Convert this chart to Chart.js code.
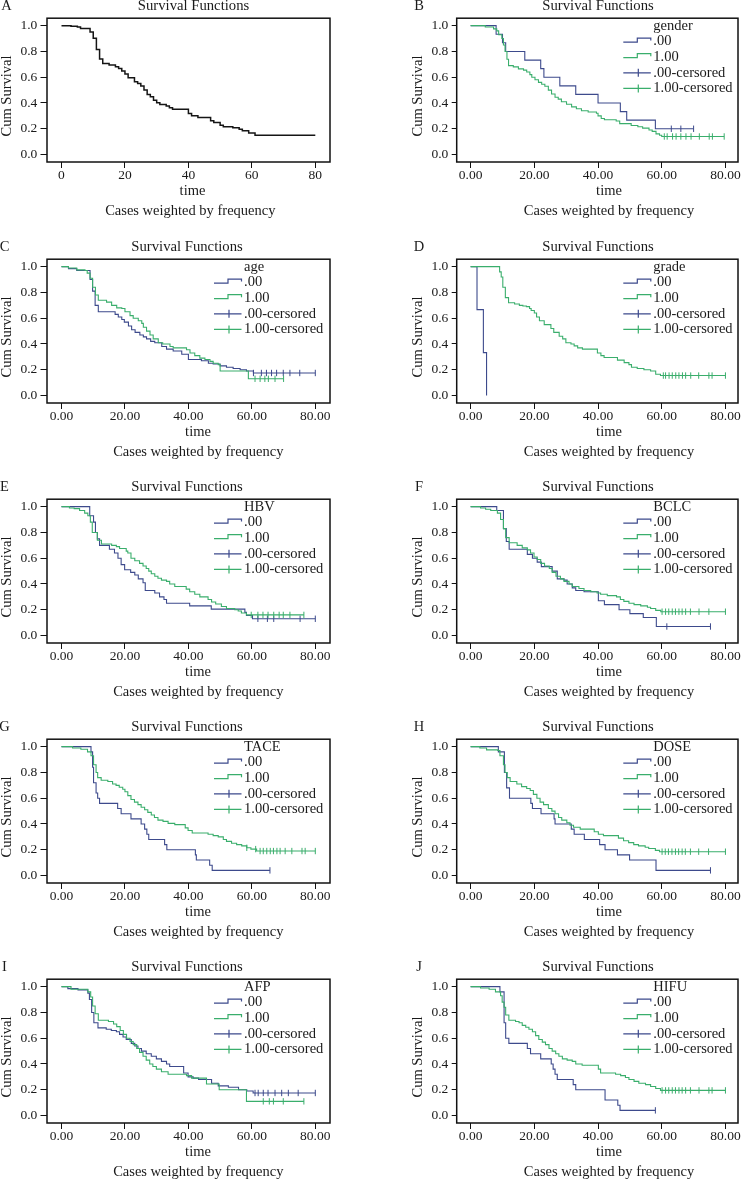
<!DOCTYPE html>
<html>
<head>
<meta charset="utf-8">
<script src="https://cdn.jsdelivr.net/npm/chart.js@4.4.1/dist/chart.umd.min.js"></script>
<style>
  body { margin: 0; background: #fff; width: 743px; height: 1180px; overflow: hidden; position: relative; }
  canvas.panel { position: absolute; }
</style>
</head>
<body>
<script>
// ---- tick labels / legend text ----
const xTickValues = [0, 20, 40, 60, 80];
const yTickValues = [0, 0.2, 0.4, 0.6, 0.8, 1.0];
const seriesLabels = ['.00', '1.00', '.00-cersored', '1.00-cersored'];

// ---- A: all cases ----
const aTime = [0, 3, 5, 6, 9, 10, 11, 12, 13, 15, 17, 18, 19, 20, 21, 23, 24, 25, 26, 27, 28, 29, 30, 31, 33, 34, 35, 40, 41, 43, 47, 48, 50, 51, 54, 56, 57, 59, 61, 80];
const aSurv = [1, 0.995, 0.99, 0.979, 0.951, 0.902, 0.816, 0.741, 0.707, 0.694, 0.681, 0.668, 0.648, 0.624, 0.596, 0.565, 0.552, 0.531, 0.5, 0.466, 0.448, 0.422, 0.402, 0.389, 0.376, 0.363, 0.352, 0.319, 0.301, 0.288, 0.262, 0.249, 0.228, 0.215, 0.207, 0.197, 0.184, 0.168, 0.15, 0.15];

// ---- B: gender ----
const bTime0 = [0, 8, 10, 11, 17, 22, 23, 28, 33, 40, 47, 49, 58, 70];
const bSurv0 = [1, 0.933, 0.867, 0.8, 0.733, 0.667, 0.6, 0.533, 0.467, 0.4, 0.333, 0.267, 0.2, 0.2];
const bCens0 = [63, 66, 70];
const bTime1 = [0, 4.6, 7.2, 8.2, 8.8, 9.8, 10.3, 10.8, 11.4, 11.9, 13.4, 15, 16.6, 17.6, 18.6, 19.2, 20.2, 21.3, 22.3, 23.3, 24.4, 25.4, 26.5, 27.5, 28.5, 30.1, 31.7, 33.2, 34.8, 36.9, 39.5, 40, 41, 42, 45.7, 46.8, 50.4, 52.5, 54, 56, 57, 58.2, 59.3, 60, 79.6];
const bSurv1 = [1, 0.99, 0.975, 0.96, 0.93, 0.9, 0.85, 0.8, 0.74, 0.69, 0.68, 0.665, 0.655, 0.64, 0.62, 0.6, 0.58, 0.56, 0.545, 0.53, 0.5, 0.47, 0.445, 0.43, 0.41, 0.39, 0.37, 0.355, 0.34, 0.33, 0.32, 0.3, 0.28, 0.27, 0.26, 0.24, 0.225, 0.215, 0.205, 0.19, 0.18, 0.16, 0.15, 0.14, 0.14];
const bCens1 = [60.8, 61.7, 63.4, 64.5, 66, 67.6, 69.2, 71.8, 74.9, 75.9, 79.6];

// ---- C: age ----
const cTime0 = [0, 2.2, 4.8, 9, 9.8, 10.6, 11.6, 16.9, 17.9, 19, 19.8, 21.1, 22.1, 23.2, 24.7, 25.8, 26.8, 28.1, 29.4, 31.6, 33.1, 35.2, 37.9, 40, 44.1, 46.3, 47.8, 50, 52, 54.1, 56.3, 58.3, 60.5, 80];
const cSurv0 = [1, 0.985, 0.97, 0.9, 0.81, 0.7, 0.65, 0.63, 0.61, 0.59, 0.57, 0.54, 0.51, 0.49, 0.47, 0.455, 0.44, 0.42, 0.41, 0.38, 0.36, 0.345, 0.32, 0.28, 0.27, 0.25, 0.245, 0.23, 0.22, 0.21, 0.2, 0.19, 0.175, 0.175];
const cCens0 = [60.5, 63, 64.6, 66.2, 67.8, 69.9, 72, 75.1, 80];
const cTime1 = [0, 2.2, 4.8, 7.4, 8.1, 9, 9.8, 10.7, 11.6, 14.2, 15.8, 17.4, 19, 20, 21.6, 22.6, 24.2, 25.3, 25.8, 26.8, 27.9, 28.9, 30.5, 31.9, 34.2, 35.2, 39.4, 40.5, 42, 43.6, 45.2, 46.8, 47.8, 49.4, 50, 58.9, 70];
const cSurv1 = [1, 0.99, 0.975, 0.97, 0.95, 0.91, 0.84, 0.78, 0.74, 0.725, 0.7, 0.68, 0.675, 0.65, 0.62, 0.6, 0.58, 0.56, 0.53, 0.5, 0.47, 0.44, 0.41, 0.4, 0.38, 0.37, 0.355, 0.33, 0.31, 0.29, 0.28, 0.265, 0.25, 0.24, 0.19, 0.13, 0.13];
const cCens1 = [61, 62.6, 64.1, 65.2, 67.3, 70];

// ---- D: grade ----
const dTime0 = [0, 2, 4, 5];
const dSurv0 = [1, 0.667, 0.333, 0];
const dCens0 = [];
const dTime1 = [0, 9.1, 9.6, 10.1, 10.9, 11.9, 13.8, 15.3, 16.4, 17.5, 18.5, 19, 20, 20.7, 21.6, 23.1, 25.2, 26.1, 27.8, 28.9, 29.9, 31.5, 32.5, 33.6, 35.1, 39.8, 40.9, 41.9, 46.1, 48.2, 49.7, 50.5, 52.3, 54.4, 56.5, 58.1, 59.6, 80];
const dSurv1 = [1, 0.96, 0.92, 0.84, 0.76, 0.72, 0.71, 0.7, 0.695, 0.69, 0.675, 0.66, 0.64, 0.61, 0.58, 0.55, 0.52, 0.49, 0.46, 0.44, 0.41, 0.4, 0.385, 0.37, 0.36, 0.33, 0.31, 0.295, 0.275, 0.255, 0.24, 0.22, 0.21, 0.2, 0.19, 0.165, 0.155, 0.155];
const dCens1 = [60.5, 61.2, 62.3, 63.3, 64.4, 65.4, 66.5, 67.5, 69.1, 71.6, 74.8, 75.8, 80];

// ---- E: HBV ----
const eTime0 = [0, 8.9, 10.1, 10.7, 11.3, 12, 15.1, 16.7, 17.8, 18.8, 19.9, 21.8, 23.1, 24.2, 25.7, 26.4, 29.4, 30.9, 32.3, 33.1, 40.4, 47.2, 57.8, 58.3, 60.2, 80];
const eSurv0 = [1, 0.93, 0.88, 0.8, 0.75, 0.7, 0.67, 0.64, 0.6, 0.55, 0.51, 0.49, 0.47, 0.44, 0.41, 0.35, 0.33, 0.3, 0.28, 0.25, 0.23, 0.205, 0.18, 0.155, 0.13, 0.13];
const eCens0 = [61.9, 64.9, 66.9, 75.2, 80];
const eTime1 = [0, 2.5, 4, 5.7, 7.3, 8.3, 9.1, 9.7, 11.3, 12.6, 15.8, 17.3, 18.3, 20.4, 20.9, 21.9, 23.1, 24.6, 25.7, 26.7, 27.5, 28.3, 29.4, 30.4, 31.5, 33.1, 34.1, 35.7, 39.3, 40.4, 42, 43.6, 46.2, 47.3, 48.6, 50.4, 52, 54.6, 55.7, 56.7, 58.3, 76.4];
const eSurv1 = [1, 0.99, 0.985, 0.97, 0.95, 0.93, 0.88, 0.8, 0.74, 0.71, 0.7, 0.69, 0.675, 0.655, 0.64, 0.6, 0.58, 0.56, 0.54, 0.52, 0.5, 0.48, 0.46, 0.445, 0.43, 0.42, 0.4, 0.38, 0.36, 0.34, 0.32, 0.3, 0.28, 0.26, 0.245, 0.225, 0.21, 0.2, 0.19, 0.175, 0.16, 0.16];
const eCens1 = [59.8, 61.9, 63.5, 65.1, 66.9, 68.6, 69.9, 72, 76.4];

// ---- F: BCLC ----
const fTime0 = [0, 8.2, 10.3, 11.2, 12.1, 17.8, 19.4, 20.9, 22.2, 25.6, 27.2, 29.3, 30.3, 31.9, 33, 35.6, 40.1, 42, 46.6, 50, 54.2, 58.3, 75.3];
const fSurv0 = [1, 0.97, 0.83, 0.73, 0.67, 0.63, 0.6, 0.57, 0.535, 0.5, 0.44, 0.43, 0.4, 0.37, 0.35, 0.34, 0.27, 0.24, 0.2, 0.17, 0.14, 0.07, 0.07];
const fCens0 = [61.6, 75.3];
const fTime1 = [0, 3.1, 4.7, 6.3, 8.4, 9.4, 10.3, 11, 12.1, 14.6, 16.2, 17.8, 18.8, 19.9, 20.9, 22, 23.2, 24.7, 25.6, 26.8, 28.2, 29.3, 30.9, 31.9, 34, 35.6, 37.7, 39.7, 40.8, 42.9, 45.8, 47, 48.1, 49.7, 51.3, 53.4, 55.5, 56.5, 58.1, 59.7, 80];
const fSurv1 = [1, 0.99, 0.98, 0.97, 0.95, 0.9, 0.83, 0.76, 0.72, 0.7, 0.68, 0.665, 0.64, 0.61, 0.59, 0.56, 0.54, 0.52, 0.49, 0.46, 0.44, 0.42, 0.4, 0.38, 0.365, 0.35, 0.34, 0.33, 0.32, 0.31, 0.3, 0.28, 0.265, 0.25, 0.24, 0.23, 0.22, 0.21, 0.195, 0.185, 0.185];
const fCens1 = [60.1, 61.2, 62.2, 63.3, 64.3, 65.4, 66.4, 67.5, 69, 71.7, 74.8, 80];

// ---- G: TACE ----
const gTime0 = [0, 9.3, 9.8, 10.1, 10.9, 11.4, 12, 17.7, 18.8, 21.9, 25.1, 26.2, 26.9, 27.5, 32.5, 33.2, 42.2, 42.5, 46.7, 47.5, 65.7];
const gSurv0 = [1, 0.96, 0.84, 0.72, 0.64, 0.6, 0.56, 0.52, 0.48, 0.44, 0.4, 0.36, 0.32, 0.28, 0.24, 0.2, 0.16, 0.12, 0.08, 0.04, 0.04];
const gCens0 = [65.7];
const gTime1 = [0, 3.5, 6.1, 8.2, 9.3, 10.1, 10.9, 11.4, 12.5, 14.6, 16.1, 17.2, 18.2, 19.3, 20, 20.9, 21.9, 23, 24.1, 25.1, 26.2, 27.2, 28.3, 29.3, 30.4, 32, 33.6, 35.7, 39, 39.9, 41.2, 46.2, 47.8, 49.4, 51, 52, 53.6, 55.2, 56.8, 58.4, 59.7, 61.5, 80];
const gSurv1 = [1, 0.99, 0.98, 0.96, 0.93, 0.86, 0.8, 0.76, 0.74, 0.73, 0.71, 0.7, 0.685, 0.67, 0.65, 0.62, 0.59, 0.57, 0.55, 0.53, 0.51, 0.49, 0.47, 0.45, 0.43, 0.42, 0.405, 0.395, 0.37, 0.35, 0.33, 0.32, 0.31, 0.3, 0.28, 0.265, 0.25, 0.24, 0.23, 0.215, 0.205, 0.19, 0.19];
const gCens1 = [58.4, 61.2, 62.6, 63.6, 64.7, 65.8, 66.8, 67.9, 68.9, 70.5, 72.6, 75.8, 76.8, 80];

// ---- H: DOSE ----
const hTime0 = [0, 8.7, 10.6, 11.3, 12.2, 18.9, 19.4, 22.1, 26.2, 26.5, 31.6, 32.5, 35.7, 40.5, 42.2, 46.1, 49.9, 58.2, 75.3];
const hSurv0 = [1, 0.96, 0.8, 0.68, 0.6, 0.56, 0.52, 0.48, 0.44, 0.4, 0.36, 0.32, 0.28, 0.24, 0.2, 0.16, 0.12, 0.04, 0.04];
const hCens0 = [75.3];
const hTime1 = [0, 2.9, 5, 8.5, 9.2, 10.3, 10.8, 11.5, 12.4, 14.5, 16, 17.6, 18.7, 19.7, 20.8, 21.8, 22.9, 24.4, 25.5, 26.5, 27.6, 28.6, 30.2, 31.2, 32.3, 34.4, 38.8, 40.1, 41.7, 46.4, 48, 49.6, 51.2, 52.7, 54.8, 55.9, 58, 59.3, 80];
const hSurv1 = [1, 0.99, 0.975, 0.97, 0.93, 0.86, 0.8, 0.76, 0.73, 0.71, 0.69, 0.675, 0.66, 0.63, 0.6, 0.57, 0.55, 0.52, 0.5, 0.48, 0.45, 0.43, 0.41, 0.39, 0.375, 0.36, 0.34, 0.32, 0.31, 0.29, 0.27, 0.255, 0.24, 0.23, 0.22, 0.21, 0.195, 0.185, 0.185];
const hCens1 = [60.1, 61.1, 62.1, 63.2, 64.3, 65.3, 66.4, 67.4, 69, 71.6, 74.7, 80];

// ---- I: AFP ----
const iTime0 = [0, 2, 5.2, 8.3, 8.8, 9.5, 10.2, 11.5, 14.1, 15.7, 17.3, 18.3, 19.4, 20.4, 22, 23.1, 24.1, 25.2, 26.7, 28.3, 29.9, 31.5, 33.1, 34.1, 38.5, 39.9, 41.5, 43.2, 47.3, 49.4, 52.6, 55.8, 58.4, 60.4, 80];
const iSurv0 = [1, 0.985, 0.975, 0.95, 0.9, 0.8, 0.72, 0.68, 0.67, 0.66, 0.65, 0.63, 0.61, 0.59, 0.56, 0.54, 0.52, 0.5, 0.48, 0.46, 0.44, 0.42, 0.4, 0.38, 0.33, 0.3, 0.29, 0.28, 0.25, 0.23, 0.22, 0.2, 0.19, 0.175, 0.175];
const iCens0 = [61, 62, 63.6, 65.1, 67.3, 69.4, 71.5, 74.6, 80];
const iTime1 = [0, 3, 8.3, 9.2, 9.8, 10.6, 11.6, 14.8, 16.4, 17.4, 18.5, 19.5, 20.5, 21.6, 22.6, 23.7, 24.6, 25.7, 26.7, 27.8, 28.8, 29.9, 31.5, 33.6, 39.4, 41, 45.7, 49.7, 58.3, 76.4];
const iSurv1 = [1, 0.98, 0.96, 0.92, 0.85, 0.79, 0.74, 0.73, 0.71, 0.69, 0.66, 0.63, 0.6, 0.575, 0.55, 0.52, 0.49, 0.46, 0.43, 0.4, 0.38, 0.36, 0.34, 0.32, 0.31, 0.29, 0.245, 0.2, 0.11, 0.11];
const iCens1 = [63.6, 65.5, 66.8, 69.9, 76.4];

// ---- J: HIFU ----
const jTime0 = [0, 9.2, 10.5, 11, 12, 17.8, 18.8, 22, 25.3, 25.9, 26.5, 27.2, 32.2, 33, 42.2, 46.2, 46.9, 58];
const jSurv0 = [1, 0.96, 0.72, 0.6, 0.56, 0.52, 0.48, 0.44, 0.4, 0.36, 0.32, 0.28, 0.24, 0.2, 0.12, 0.08, 0.04, 0.04];
const jCens0 = [58];
const jTime1 = [0, 3.1, 5.8, 7.8, 9.4, 9.9, 10.5, 11, 12, 14.1, 15.2, 16.2, 17.3, 18.3, 19.4, 20.4, 21.4, 22.5, 23.5, 24.6, 25.6, 26.7, 27.7, 28.8, 30.3, 31.9, 33, 35, 40.1, 40.8, 45.5, 47.1, 48.6, 49.7, 51.3, 52.8, 54.9, 56.5, 58.1, 59.6, 80];
const jSurv1 = [1, 0.99, 0.98, 0.96, 0.93, 0.88, 0.84, 0.78, 0.74, 0.73, 0.72, 0.7, 0.685, 0.67, 0.65, 0.62, 0.59, 0.57, 0.55, 0.52, 0.5, 0.48, 0.46, 0.44, 0.43, 0.42, 0.4, 0.39, 0.36, 0.33, 0.32, 0.31, 0.295, 0.28, 0.265, 0.25, 0.24, 0.225, 0.21, 0.195, 0.195];
const jCens1 = [60.1, 61.2, 62.2, 63.3, 64.3, 65.4, 66.4, 67.5, 69, 71.7, 74.8, 75.8, 80];

const colours = {
    g0: '#3d4a8c',
    g1: '#3aae6c',
    all: '#151515',
    text: '#1a1a1a',
};
const FONT = '"Liberation Serif", "Times New Roman", serif';
const rowTops = [0, 241, 481, 721, 961];

const panels = [
    { letter: 'A', row: 0, col: 0, group: null, curves: [[aTime, aSurv, []]] },
    { letter: 'B', row: 0, col: 1, group: 'gender', curves: [[bTime0, bSurv0, bCens0], [bTime1, bSurv1, bCens1]] },
    { letter: 'C', row: 1, col: 0, group: 'age', curves: [[cTime0, cSurv0, cCens0], [cTime1, cSurv1, cCens1]] },
    { letter: 'D', row: 1, col: 1, group: 'grade', curves: [[dTime0, dSurv0, dCens0], [dTime1, dSurv1, dCens1]] },
    { letter: 'E', row: 2, col: 0, group: 'HBV', curves: [[eTime0, eSurv0, eCens0], [eTime1, eSurv1, eCens1]] },
    { letter: 'F', row: 2, col: 1, group: 'BCLC', curves: [[fTime0, fSurv0, fCens0], [fTime1, fSurv1, fCens1]] },
    { letter: 'G', row: 3, col: 0, group: 'TACE', curves: [[gTime0, gSurv0, gCens0], [gTime1, gSurv1, gCens1]] },
    { letter: 'H', row: 3, col: 1, group: 'DOSE', curves: [[hTime0, hSurv0, hCens0], [hTime1, hSurv1, hCens1]] },
    { letter: 'I', row: 4, col: 0, group: 'AFP', curves: [[iTime0, iSurv0, iCens0], [iTime1, iSurv1, iCens1]] },
    { letter: 'J', row: 4, col: 1, group: 'HIFU', curves: [[jTime0, jSurv0, jCens0], [jTime1, jSurv1, jCens1]] },
];

// survival value of a step curve at time t
function survivalAt(times, surv, t) {
    let v = surv[0];
    for (let i = 0; i < times.length; i++) {
        if (times[i] <= t) v = surv[i];
    }
    return v;
}

// frame, titles, panel letter and the SPSS style legend
const panelText = {
    id: 'panelText',
    afterDraw(chart, args, opts) {
        const { ctx, chartArea: a } = chart;
        ctx.save();
        ctx.strokeStyle = '#111';
        ctx.lineWidth = 1.5;
        ctx.strokeRect(a.left, a.top, a.right - a.left, a.bottom - a.top);

        ctx.fillStyle = colours.text;
        ctx.textBaseline = 'middle';
        ctx.textAlign = 'center';
        ctx.font = `14.7px ${FONT}`;
        ctx.fillText('Survival Functions', opts.titleX, 6.2);
        ctx.font = `14.5px ${FONT}`;
        ctx.fillText('time', opts.timeX, 190.7);
        ctx.fillText('Cases weighted by frequency', opts.casesX, 211.5);
        ctx.fillText(opts.letter, opts.letterX, 6);

        ctx.save();
        ctx.translate(opts.yTitleX, 96);
        ctx.rotate(-Math.PI / 2);
        ctx.fillText('Cum Survival', 0, 0);
        ctx.restore();

        if (opts.group) {
            const lx = opts.legendX;
            ctx.textAlign = 'left';
            ctx.fillText(opts.group, lx, 26);
            seriesLabels.forEach((label, i) => {
                const y = 41.6 + 15.6 * i;
                const x0 = lx - 30;
                const x1 = lx - 2.5;
                ctx.strokeStyle = i % 2 === 0 ? colours.g0 : colours.g1;
                ctx.lineWidth = 1.2;
                ctx.beginPath();
                if (i < 2) {
                    ctx.moveTo(x0, y + 0.5);
                    ctx.lineTo(x0 + 14, y + 0.5);
                    ctx.lineTo(x0 + 14, y - 3.5);
                    ctx.lineTo(x1, y - 3.5);
                    ctx.lineTo(x1, y - 1);
                } else {
                    ctx.moveTo(x0, y);
                    ctx.lineTo(x1, y);
                    ctx.moveTo(x0 + 15, y - 4);
                    ctx.lineTo(x0 + 15, y + 4);
                }
                ctx.stroke();
                ctx.fillStyle = colours.text;
                ctx.fillText(label, lx, y);
            });
        }
        ctx.restore();
    },
};

function buildDatasets(p) {
    const sets = [];
    const isA = p.letter === 'A';
    // draw group 1.00 first so .00 sits on top
    const order = p.curves.length > 1 ? [1, 0] : [0];
    order.forEach(g => {
        const [times, surv, cens] = p.curves[g];
        const col = isA ? colours.all : (g === 0 ? colours.g0 : colours.g1);
        sets.push({
            data: times.map((t, i) => ({ x: t, y: surv[i] })),
            borderColor: col,
            borderWidth: isA ? 1.5 : 1.1,
            pointRadius: 0,
            stepped: 'before',
            fill: false,
        });
        if (cens.length) {
            sets.push({
                data: cens.map(t => ({ x: t, y: survivalAt(times, surv, t) })),
                showLine: false,
                borderColor: col,
                pointStyle: 'line',
                pointRotation: 90,
                pointRadius: 3.2,
                pointBorderWidth: 1,
                pointBorderColor: col,
            });
        }
    });
    return sets;
}

function renderPanel(p) {
    const right = p.col === 1;
    const isA = p.letter === 'A';
    const w = right ? 371 : 372;
    const h = 220;
    const canvas = document.createElement('canvas');
    canvas.className = 'panel';
    canvas.width = w;
    canvas.height = h;
    canvas.style.left = (right ? 372 : 0) + 'px';
    canvas.style.top = rowTops[p.row] + 'px';
    canvas.style.width = w + 'px';
    canvas.style.height = h + 'px';
    document.body.appendChild(canvas);

    const tickFont = { family: FONT, size: 13.5, lineHeight: 1 };

    new Chart(canvas, {
        type: 'line',
        data: { datasets: buildDatasets(p) },
        options: {
            responsive: false,
            animation: false,
            events: [],
            layout: { padding: { left: 0, right: right ? 3.7 : 42, top: 18.2, bottom: 0 } },
            plugins: {
                legend: { display: false },
                tooltip: { enabled: false },
                panelText: {
                    letter: p.letter,
                    group: p.group,
                    letterX: right ? 47 : (isA ? 6.5 : 4.5),
                    titleX: right ? 226 : (isA ? 193.5 : 187),
                    timeX: right ? 237 : (isA ? 192.5 : 198),
                    casesX: right ? 237 : (isA ? 190.3 : 198.3),
                    yTitleX: right ? 46.5 : 6.7,
                    legendX: right ? 281.3 : 244,
                },
            },
            scales: {
                x: {
                    type: 'linear',
                    min: right ? -4.375 : -4.57,
                    max: right ? 83.94 : 84.63,
                    afterBuildTicks: s => { s.ticks = xTickValues.map(v => ({ value: v })); },
                    afterFit: s => { s.height = 58; s.paddingLeft = 0; s.paddingRight = 0; },
                    ticks: {
                        font: tickFont,
                        color: colours.text,
                        padding: 0.5,
                        maxRotation: 0,
                        autoSkip: false,
                        callback: v => isA ? String(v) : v.toFixed(2),
                    },
                    grid: { drawOnChartArea: false, drawTicks: true, tickLength: 6, color: '#111' },
                    border: { display: false },
                },
                y: {
                    type: 'linear',
                    min: -0.058,
                    max: 1.058,
                    afterBuildTicks: s => { s.ticks = yTickValues.map(v => ({ value: v })); },
                    afterFit: s => { s.width = right ? 84.7 : 47; s.paddingTop = 0; s.paddingBottom = 0; },
                    ticks: {
                        font: tickFont,
                        color: colours.text,
                        padding: right ? 3.4 : 3.2,
                        autoSkip: false,
                        callback: v => v.toFixed(1),
                    },
                    grid: { drawOnChartArea: false, drawTicks: true, tickLength: right ? 5 : 6.5, color: '#111' },
                    border: { display: false },
                },
            },
        },
        plugins: [panelText],
    });
}

panels.forEach(renderPanel);
</script>
</body>
</html>
